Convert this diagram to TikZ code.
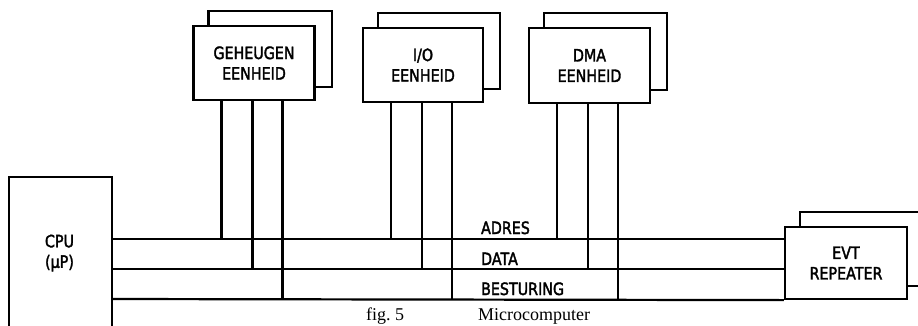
\documentclass[tikz,border=0pt]{standalone}
\usepackage{fontspec}
\setmainfont{Liberation Serif}
\newfontfamily\diafont[FakeStretch=0.84,FakeBold=2]{DejaVu Sans}
\begin{document}
\begin{tikzpicture}[x=1pt,y=-1pt,line width=2.2pt,
  unit/.style={draw,rectangle,inner sep=0pt,align=center,
    font=\diafont\fontsize{17}{20.5}\selectfont},
  lbl/.style={inner sep=0pt,anchor=base west,font=\diafont\fontsize{17}{20}\selectfont},
  capt/.style={inner sep=0pt,anchor=base west,font=\fontsize{18}{21}\selectfont}]
\useasboundingbox (0,0) rectangle (918,325);
\fill[white] (0,0) rectangle (918,325);
\newcommand\backbox[1]{\draw ([xshift=16pt]#1.north west) |- ([xshift=16pt,yshift=14pt]#1.north east) |- ([yshift=14pt]#1.south east);}
% bus levels
\coordinate (adres) at (0,239);
\coordinate (data) at (0,269);
\coordinate (best) at (0,299);
% units
\node[unit,minimum width=121pt,minimum height=74pt] (geh) at (254,63) {GEHEUGEN\\EENHEID};
\node[unit,minimum width=120pt,minimum height=74pt] (io) at (423,65) {I/O\\EENHEID};
\node[unit,minimum width=121pt,minimum height=75pt] (dma) at (589.5,65.5) {DMA\\EENHEID};
\node[unit,minimum width=122pt,minimum height=72pt] (evt) at (846,263) {EVT\\REPEATER};
\backbox{geh}
\backbox{io}
\backbox{dma}
\backbox{evt}
% CPU (bottom cut by the page)
\node[minimum width=101pt,minimum height=170pt,anchor=north west,inner sep=0pt] (cpu) at (9,177) {};
\draw (cpu.south west) |- (cpu.north east) -- (cpu.south east);
\node[unit,draw=none] (cputxt) at (59.5,253) {CPU\\(μP)};
% bus lines
\draw (cpu.east |- adres) -- (evt.west |- adres);
\draw (cpu.east |- data) -- (evt.west |- data);
\draw (cpu.east |- best) -- (evt.south west);
% unit connections
\foreach \u in {geh,io,dma}{
  \draw ([xshift=29pt]\u.south west) -- ([xshift=29pt]\u.south west |- adres);
  \draw ([xshift=60pt]\u.south west) -- ([xshift=60pt]\u.south west |- data);
  \draw ([xshift=90pt]\u.south west) -- ([xshift=90pt]\u.south west |- best);
}
% bus labels
\node[lbl] (ladres) at (480,234) {ADRES};
\node[lbl] (ldata) at (480,265) {DATA};
\node[lbl] (lbest) at (480,295) {BESTURING};
% caption
\node[capt] (caption) at (365,320.5) {fig.~5\hspace{74pt}Microcomputer};
\end{tikzpicture}
\end{document}
